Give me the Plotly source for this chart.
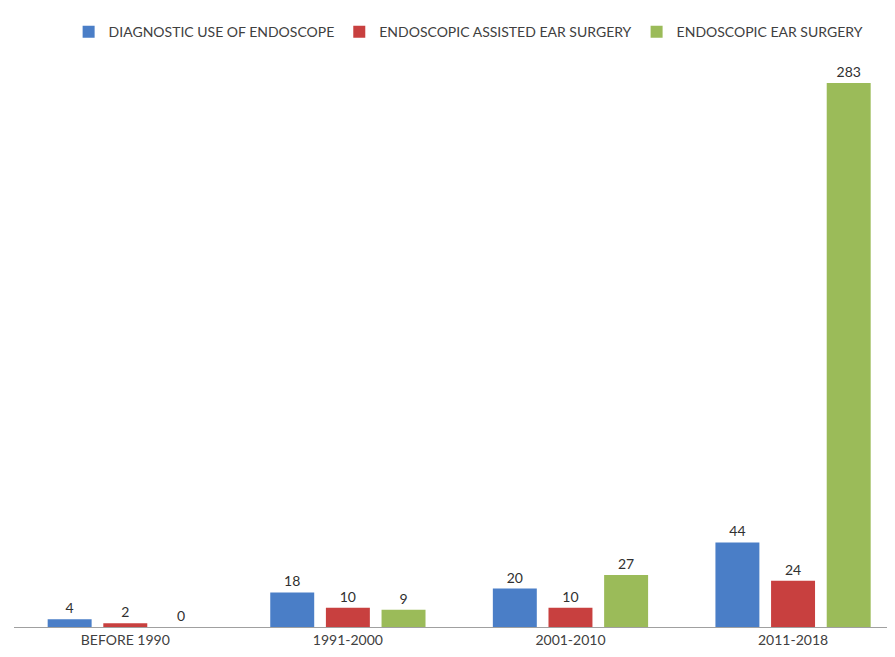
import plotly.graph_objects as go

categories = ["BEFORE 1990", "1991-2000", "2001-2010", "2011-2018"]
diagnostic = [4, 18, 20, 44]
assisted = [2, 10, 10, 24]
ear_surgery = [0, 9, 27, 283]

series = [
    ("DIAGNOSTIC USE OF ENDOSCOPE", diagnostic, "#4A7EC7"),
    ("ENDOSCOPIC ASSISTED EAR SURGERY", assisted, "#C8403F"),
    ("ENDOSCOPIC EAR SURGERY", ear_surgery, "#9BBB59"),
]

FONT = "Lato"
fig = go.Figure()
for name, vals, col in series:
    fig.add_trace(go.Bar(
        x=categories, y=vals, name=name,
        marker=dict(color=col, line=dict(width=0)),
        text=[str(v) for v in vals], textposition="outside",
        textfont=dict(family=FONT, size=14, color="#303030"),
        cliponaxis=False,
    ))

fig.update_layout(
    width=887, height=649,
    margin=dict(l=6, r=0, t=42, b=30),
    paper_bgcolor="white", plot_bgcolor="white",
    barmode="group", bargap=0.25, bargroupgap=0.21,
    font=dict(family=FONT, size=14, color="#404040"),
    showlegend=True,
    legend=dict(orientation="h", x=0.062, xanchor="left", y=1.031, yanchor="middle",
                font=dict(family=FONT, size=14, color="#404040"),
                itemwidth=30, traceorder="normal"),
    xaxis=dict(range=[-0.5, 3.458], showline=True, linecolor="#A0A0A0", linewidth=1,
               ticks="", showgrid=False, tickfont=dict(family=FONT, size=14, color="#404040")),
    yaxis=dict(range=[0, 300.2], visible=False, showgrid=False, zeroline=False),
)

fig.write_html("out.html")
